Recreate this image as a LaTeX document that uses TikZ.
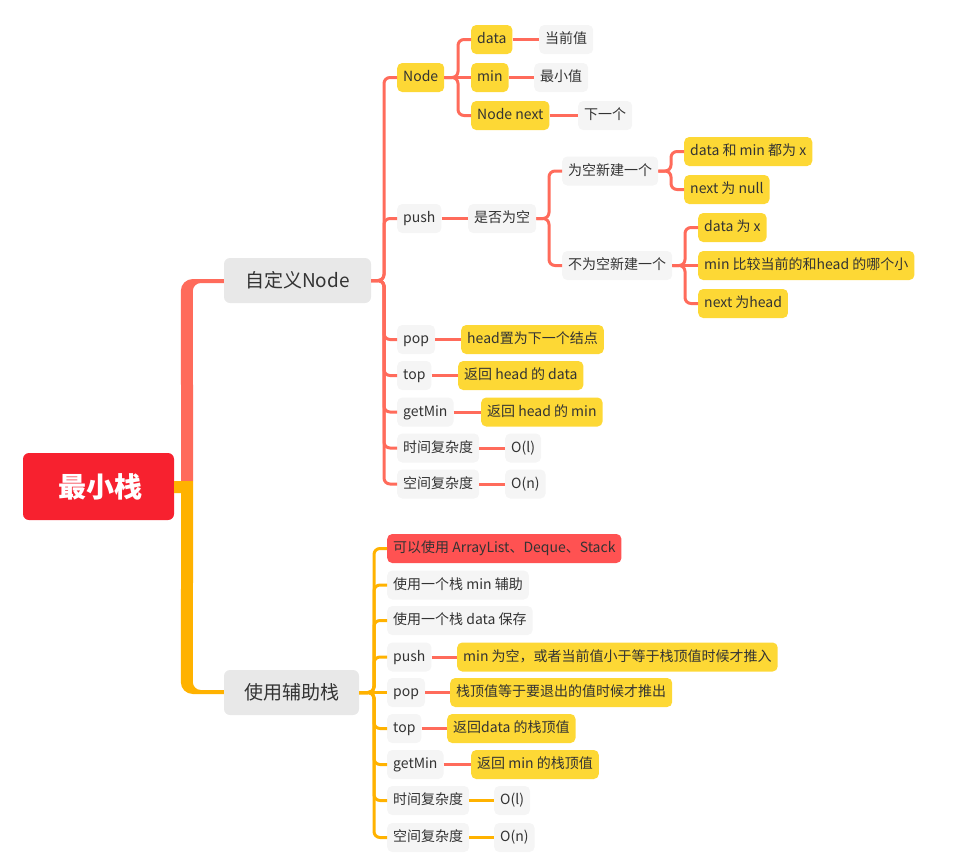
\documentclass[tikz,border=0pt]{standalone}
\usepackage{fontspec}
\setmainfont{Noto Sans CJK SC}
\definecolor{rootred}{RGB}{247,33,47}
\definecolor{linkred}{RGB}{255,107,91}
\definecolor{linkorange}{RGB}{255,178,0}
\definecolor{hlyellow}{RGB}{253,216,53}
\definecolor{warnred}{RGB}{255,82,82}
\definecolor{topgray}{RGB}{232,232,232}
\definecolor{leafgray}{RGB}{245,245,245}
\definecolor{inkgray}{RGB}{51,51,51}
\begin{document}
\begin{tikzpicture}[x=1pt,y=-1pt,
    leaf/.style={anchor=west,rounded corners=5pt,minimum height=29pt,inner xsep=6pt,inner ysep=0pt,
      text height=11pt,text depth=3pt,text=inkgray,font=\fontsize{14}{16}\selectfont},
    plain/.style={leaf,fill=leafgray},
    hl/.style={leaf,fill=hlyellow},
    warn/.style={leaf,fill=warnred},
    topic/.style={rounded corners=6pt,minimum height=45pt,fill=topgray,text=inkgray,
      font=\fontsize{19}{22}\selectfont},
    link/.style={draw=linkred,line width=3pt,rounded corners=6pt},
    linko/.style={link,draw=linkorange}]

    \useasboundingbox (0,0) rectangle (971,865);

    \node[fill=rootred,rounded corners=6pt,minimum width=151pt,minimum height=67pt,text=white,
      font=\fontsize{28}{32}\selectfont\bfseries] (root) at (98.5,486.5) {\hspace{4pt}最小栈};
    \node[topic,minimum width=147pt] (def) at (297.5,280.5) {自定义Node};
    \node[topic,minimum width=135pt] (aux) at (291.5,692.5) {使用辅助栈};

    % 自定义Node
    \node[hl] (nd) at (397,77.5) {Node};
    \node[hl] (ndata) at (471,39.5) {data};
    \node[plain] (vdata) at (539,39.5) {当前值};
    \node[hl] (nmin) at (471,77.5) {min};
    \node[plain] (vmin) at (534,77.5) {最小值};
    \node[hl] (nnext) at (471,115.5) {Node next};
    \node[plain] (vnext) at (578,115.5) {下一个};
    \node[plain] (push) at (397,218.5) {push};
    \node[plain] (isempty) at (468,218.5) {是否为空};
    \node[plain] (yes) at (562,171) {为空新建一个};
    \node[hl] (ya) at (684,151.5) {data 和 min 都为 x};
    \node[hl] (yb) at (684,189.5) {next 为 null};
    \node[plain] (no) at (562,265.5) {不为空新建一个};
    \node[hl] (na) at (698,227.5) {data 为 x};
    \node[hl] (nb) at (698,265.5) {min 比较当前的和head 的哪个小};
    \node[hl] (nc) at (698,303.5) {next 为head};
    \node[plain] (pop) at (397,339.5) {pop};
    \node[hl] (popv) at (461,339.5) {head置为下一个结点};
    \node[plain] (top) at (397,375.5) {top};
    \node[hl] (topv) at (458,375.5) {返回 head 的 data};
    \node[plain] (getmin) at (397,412) {getMin};
    \node[hl] (getminv) at (481,412) {返回 head 的 min};
    \node[plain] (tcx) at (397,448) {时间复杂度};
    \node[plain] (tcxv) at (505,448) {O(l)};
    \node[plain] (scx) at (397,484) {空间复杂度};
    \node[plain] (scxv) at (505,484) {O(n)};

    % 使用辅助栈
    \node[warn] (a1) at (387,548.5) {可以使用 ArrayList、Deque、Stack};
    \node[plain] (a2) at (387,585) {使用一个栈 min 辅助};
    \node[plain] (a3) at (387,620.5) {使用一个栈 data 保存};
    \node[plain] (apush) at (387,657) {push};
    \node[hl] (apushv) at (457,657) {min 为空，或者当前值小于等于栈顶值时候才推入};
    \node[plain] (apop) at (387,692.5) {pop};
    \node[hl] (apopv) at (450,692.5) {栈顶值等于要退出的值时候才推出};
    \node[plain] (atop) at (387,728.5) {top};
    \node[hl] (atopv) at (447,728.5) {返回data 的栈顶值};
    \node[plain] (agetmin) at (387,764.5) {getMin};
    \node[hl] (agetminv) at (471,764.5) {返回 min 的栈顶值};
    \node[plain] (atcx) at (387,800.5) {时间复杂度};
    \node[plain] (atcxv) at (494,800.5) {O(l)};
    \node[plain] (ascx) at (387,837.5) {空间复杂度};
    \node[plain] (ascxv) at (494,837.5) {O(n)};

    % trunk
    \fill[linkred] ([xshift=7pt,yshift=5.5pt]root.east) -- ([xshift=-43pt,yshift=-10.5pt]def.west)
      arc[start angle=180,end angle=90,radius=12pt] -- ([yshift=1.5pt]def.west)
      -- ([yshift=-2.5pt]def.west) -- ([xshift=-23pt,yshift=-2.5pt]def.west)
      arc[start angle=90,end angle=180,radius=8pt] -- ([xshift=19pt,yshift=5.5pt]root.east) -- cycle;
    \fill[linkorange] ([yshift=5.5pt]root.east) -- ([xshift=19pt,yshift=5.5pt]root.east)
      -- ([xshift=-31pt,yshift=10.5pt]aux.west) arc[start angle=180,end angle=270,radius=8pt]
      -- ([yshift=2.5pt]aux.west) -- ([yshift=-1.5pt]aux.west) -- ([xshift=-31pt,yshift=-1.5pt]aux.west)
      arc[start angle=270,end angle=180,radius=12pt] -- ([xshift=7pt,yshift=-6.5pt]root.east)
      -- ([yshift=-6.5pt]root.east) -- cycle;

    \foreach \p/\c in {def/nd,def/push,def/pop,def/top,def/getmin,def/tcx,def/scx,
        nd/ndata,nd/nnext,isempty/yes,isempty/no,yes/ya,yes/yb,no/na,no/nc}
      \draw[link] (\p.east) -| ([xshift=-13pt]\c.west) -- (\c.west);
    \foreach \p/\c in {nd/nmin,no/nb,ndata/vdata,nmin/vmin,nnext/vnext,push/isempty,
        pop/popv,top/topv,getmin/getminv,tcx/tcxv,scx/scxv,
        apush/apushv,apop/apopv,atop/atopv,agetmin/agetminv}
      \draw[link] (\p.east) -- (\c.west);
    \foreach \c in {a1,a2,a3,apush,atop,agetmin,atcx,ascx}
      \draw[linko] (aux.east) -| ([xshift=-13pt]\c.west) -- (\c.west);
    \foreach \p/\c in {aux/apop,atcx/atcxv,ascx/ascxv}
      \draw[linko] (\p.east) -- (\c.west);
\end{tikzpicture}
\end{document}
